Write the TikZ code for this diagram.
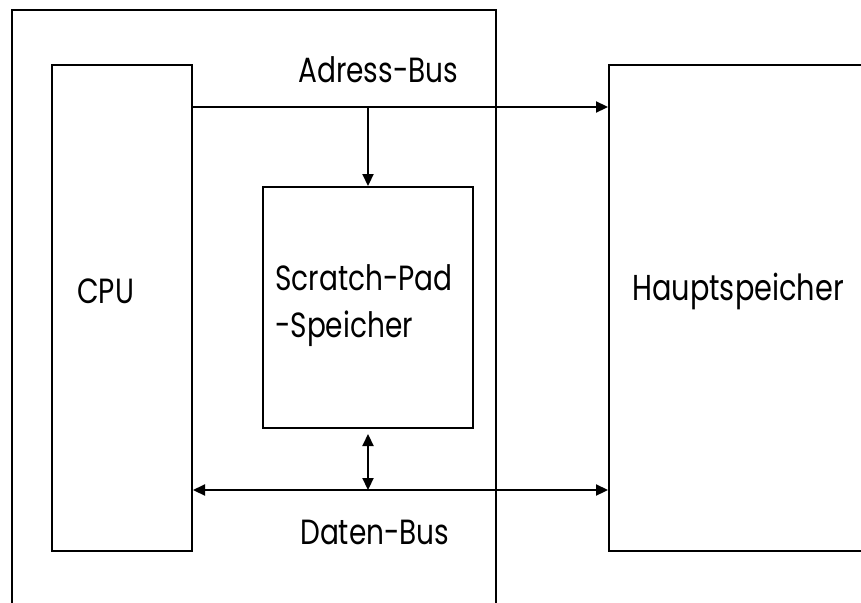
\documentclass[tikz,border=0pt]{standalone}
\usepackage{fontspec}
\setmainfont[FakeStretch=0.8]{Poppins}
\usetikzlibrary{arrows.meta}
\begin{document}
\begin{tikzpicture}[x=1pt,y=-1pt,
  box/.style={draw, line width=2pt, inner sep=0pt, anchor=north west},
  bus/.style={line width=2.2pt},
  tip/.style={-{Triangle[length=12pt,width=11pt]}},
  tips/.style={{Triangle[length=12pt,width=11pt]}-{Triangle[length=12pt,width=11pt]}},
  lbl/.style={inner sep=0pt, anchor=base west, font=\fontsize{35}{47}\selectfont}]
\path[use as bounding box] (0,0) rectangle (861,602);
\clip (0,0) rectangle (861,602);
\fill[white] (0,0) rectangle (861,602);
% boxes
\node[box, minimum width=484pt, minimum height=640pt] (outer) at (11,9) {};
\node[box, minimum width=140pt, minimum height=486pt] (cpu) at (51,64) {};
\node[box, minimum width=210pt, minimum height=241pt] (sp) at (262,186) {};
\node[box, minimum width=280pt, minimum height=486pt] (hs) at (608,64) {};
% labels
\node[lbl] (tab) at (298,82) {Adress-Bus};
\node[lbl] (tdb) at (300,544) {Daten-Bus};
\node[lbl] (tcpu) at (77,303) {CPU};
\node[lbl] (tsp1) at (275,290) {Scratch-Pad};
\node[lbl] (tsp2) at (275,337) {-Speicher};
\node[lbl, font=\fontsize{36}{47}\selectfont] (ths) at (632,300) {Hauptspeicher};
% buses
\coordinate (ab) at (0,107);
\coordinate (db) at (0,490);
\draw[bus, tip] (cpu.east |- ab) -- (hs.west |- ab);
\draw[bus, tip] (sp.north |- ab) -- (sp.north);
\draw[bus, tips] (cpu.east |- db) -- (hs.west |- db);
\draw[bus, tips, shorten <=5pt] (sp.south) -- (sp.south |- db);
\end{tikzpicture}
\end{document}
